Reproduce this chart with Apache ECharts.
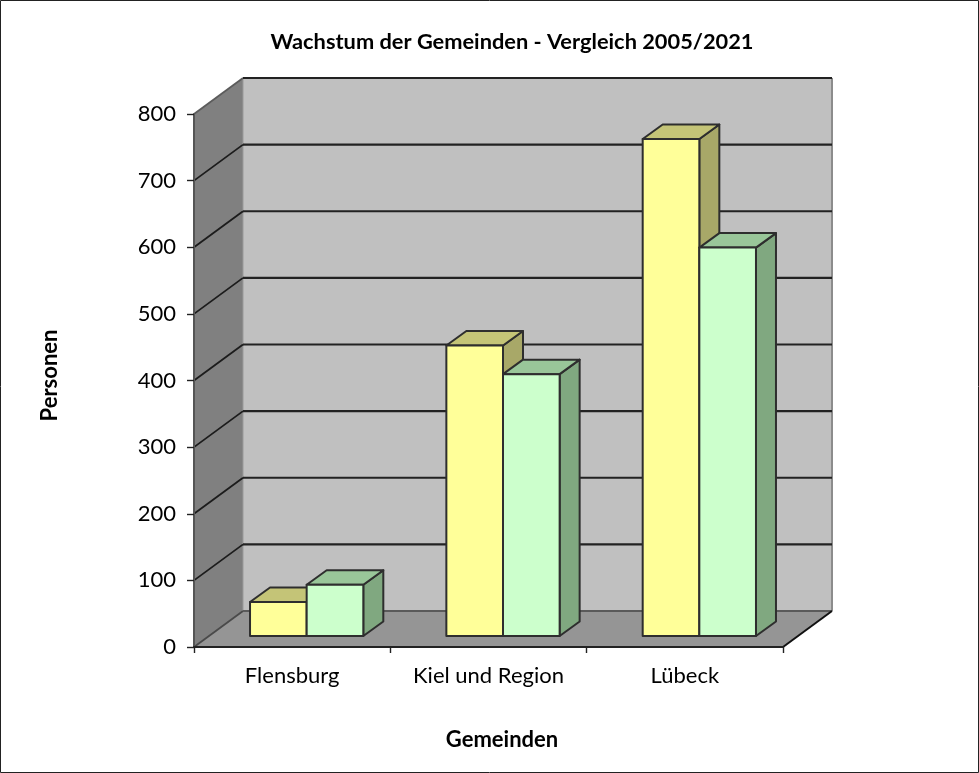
<!DOCTYPE html>
<html><head><meta charset="utf-8">
<style>html,body{margin:0;padding:0;background:#fff}#c{width:979px;height:773px;filter:blur(0.45px)}</style>
<script src="https://cdn.jsdelivr.net/npm/echarts@6/dist/echarts.min.js"></script>
</head><body><div id="c"></div>
<script>
const titleText = 'Wachstum der Gemeinden - Vergleich 2005/2021';
const xName = 'Gemeinden';
const yName = 'Personen';
const categories = ['Flensburg', 'Kiel und Region', 'Lübeck'];
const values2005 = [51, 436, 746];
const values2021 = [77, 393, 583];
const yTicks = [0, 100, 200, 300, 400, 500, 600, 700, 800];

const font = 'Lato, Carlito, "Open Sans", sans-serif';
const WALL = { dx: 49, dy: -36 };
const BAR = { dx: 14.5, dy: -11, ddx: 20, ddy: -14.5, ratio: 0.2885 };
const EDGE = '#2e2e2e';

function poly(points, fill, stroke, lw) {
  return { type: 'polygon', shape: { points }, silent: true,
    style: { fill, stroke: stroke || 'none', lineWidth: lw || 0, lineJoin: 'round' } };
}
function line(a, b, stroke, lw) {
  return { type: 'line', silent: true, shape: { x1: a[0], y1: a[1], x2: b[0], y2: b[1] },
    style: { stroke, lineWidth: lw } };
}

function renderWalls(params, api) {
  const band = api.size([1, 0])[0];
  const l = api.coord([0, 0])[0] - band / 2;
  const r = api.coord([categories.length - 1, 0])[0] + band / 2;
  const y0 = api.coord([0, 0])[1];
  const yT = api.coord([0, 800])[1];
  const d = WALL;
  const kids = [
    poly([[l + d.dx, yT + d.dy], [r + d.dx, yT + d.dy], [r + d.dx, y0 + d.dy], [l + d.dx, y0 + d.dy]], '#c0c0c0'),
    poly([[l, yT], [l + d.dx, yT + d.dy], [l + d.dx, y0 + d.dy], [l, y0]], '#808080'),
    poly([[l, y0], [l + d.dx, y0 + d.dy], [r + d.dx, y0 + d.dy], [r, y0]], '#959595')
  ];
  kids.push(line([l + d.dx, yT + d.dy], [l + d.dx, y0 + d.dy], '#9a9a9a', 1));
  kids.push(line([r + d.dx, yT + d.dy], [r + d.dx, y0 + d.dy], '#8c8c8c', 2));
  yTicks.forEach(function (v) {
    const y = api.coord([0, v])[1];
    const isTop = v === 800, isZero = v === 0;
    kids.push(line([l, y], [l + d.dx, y + d.dy], isTop ? '#5c5c5c' : (isZero ? '#4a4a4a' : '#1c1c1c'), 1.8));
    kids.push(line([l + d.dx, y + d.dy], [r + d.dx, y + d.dy], isZero ? '#5a5a5a' : '#222', 2.2));
  });
  kids.push(line([r, y0], [r + d.dx, y0 + d.dy], '#111', 2));
  return { type: 'group', children: kids };
}

function makeBar(idx, front, top, side) {
  return function (params, api) {
    const cat = api.value(0), v = api.value(1);
    const base = api.coord([cat, 0]);
    const tip = api.coord([cat, v]);
    const w = api.size([1, 0])[0] * BAR.ratio;
    const xl = base[0] + BAR.dx + (idx === 0 ? -w : 0);
    const xr = xl + w;
    const yb = base[1] + BAR.dy;
    const yt = tip[1] + BAR.dy;
    const ex = BAR.ddx, ey = BAR.ddy;
    return { type: 'group', children: [
      poly([[xr, yt], [xr + ex, yt + ey], [xr + ex, yb + ey], [xr, yb]], side, EDGE, 2),
      poly([[xl, yt], [xl + ex, yt + ey], [xr + ex, yt + ey], [xr, yt]], top, EDGE, 2),
      poly([[xl, yt], [xr, yt], [xr, yb], [xl, yb]], front, EDGE, 2)
    ] };
  };
}

const chart = echarts.init(document.getElementById('c'), null, { renderer: 'canvas' });
chart.setOption({
  animation: false,
  backgroundColor: '#fff',
  title: { text: titleText, left: 507, top: 26, textAlign: 'center',
    textStyle: { fontFamily: font, fontSize: 21.8, fontWeight: 'bold', color: '#000' } },
  grid: { left: 194, right: 196, top: 114, bottom: 126, containLabel: false },
  graphic: [{ type: 'rect', z: 100, silent: true, shape: { x: 0.5, y: 0.5, width: 978, height: 772 },
    style: { fill: 'none', stroke: '#222', lineWidth: 1 } }],
  xAxis: {
    type: 'category', data: categories, z: 5,
    name: xName, nameLocation: 'middle', nameGap: 82,
    nameTextStyle: { fontFamily: font, fontSize: 22, fontWeight: 'bold', color: '#000', padding: [0, 0, 0, 27] },
    axisLine: { lineStyle: { color: '#222', width: 2 } },
    axisTick: { show: true, length: 6, alignWithLabel: false, lineStyle: { color: '#222', width: 1.4 } },
    axisLabel: { fontFamily: font, fontSize: 22, color: '#000', margin: 18 },
    splitLine: { show: false }
  },
  yAxis: {
    type: 'value', min: 0, max: 800, interval: 100, z: 5,
    name: yName, nameLocation: 'middle', nameGap: 133, nameRotate: 90,
    nameTextStyle: { fontFamily: font, fontSize: 22, fontWeight: 'bold', color: '#000', padding: [0, 0, 0, 10] },
    axisLine: { show: true, lineStyle: { color: '#555', width: 2 } },
    axisTick: { show: true, length: 7, lineStyle: { color: '#222', width: 1.4 } },
    axisLabel: { fontFamily: font, fontSize: 22, color: '#000', margin: 18 },
    splitLine: { show: false }
  },
  series: [
    { type: 'custom', name: 'Wände', silent: true, clip: false, z: 1, renderItem: renderWalls,
      data: [[0, 0]], encode: { x: 0, y: 1 } },
    { type: 'custom', name: '2005', silent: true, clip: false, z: 2,
      renderItem: makeBar(0, '#ffff99', '#c4c477', '#a8a868'),
      data: values2005.map((v, i) => [i, v]), encode: { x: 0, y: 1 } },
    { type: 'custom', name: '2021', silent: true, clip: false, z: 3,
      renderItem: makeBar(1, '#ccffcc', '#99c699', '#80a880'),
      data: values2021.map((v, i) => [i, v]), encode: { x: 0, y: 1 } }
  ]
});
</script></body></html>
